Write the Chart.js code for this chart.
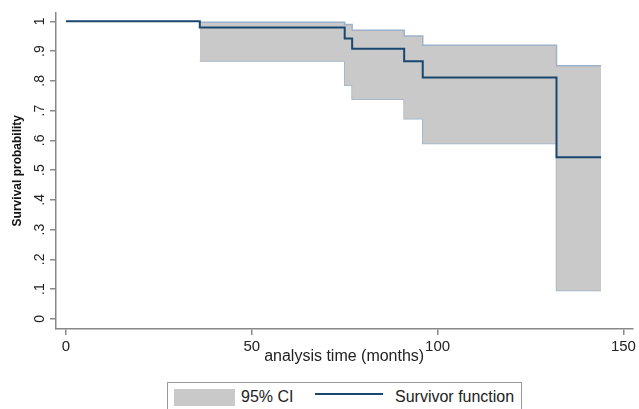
<!DOCTYPE html>
<html>
<head>
<meta charset="utf-8">
<script src="https://cdn.jsdelivr.net/npm/chart.js@4/dist/chart.umd.min.js"></script>
<style>
  html, body { margin: 0; padding: 0; background: #fff; }
  #wrap { position: relative; width: 639px; height: 409px; overflow: hidden; }
  #legend { position: absolute; left: 167px; top: 382px; width: 355px; height: 40px;
            border: 1px solid #999; box-sizing: border-box; background: #fff;
            font-family: "Liberation Sans", Arial, sans-serif; font-size: 16px; color: #222; }
  #legend .sw { position: absolute; left: 6px; top: 6px; width: 61px; height: 17px; background: #c9c9c9; }
  #legend .ln { position: absolute; left: 147px; top: 10px; width: 68px; height: 2px; background: #1a476f; }
  #legend .t1 { position: absolute; left: 73px; top: 5px; }
  #legend .t2 { position: absolute; left: 227px; top: 5px; }
</style>
</head>
<body>
<div id="wrap">
  <canvas id="kmChart" width="639" height="409"></canvas>
  <div id="legend">
    <div class="sw"></div><span class="t1">95% CI</span>
    <div class="ln"></div><span class="t2">Survivor function</span>
  </div>
</div>
<script>
// Kaplan-Meier estimate
const times = [0, 36, 75, 77, 91, 96, 132, 144];
const survival = [1, 0.979, 0.942, 0.908, 0.866, 0.811, 0.543, 0.543];

// 95% confidence band (starts at first event)
const ciTimes = [36, 75, 77, 91, 96, 132, 144];
const ciUpper = [0.997, 0.989, 0.970, 0.951, 0.920, 0.851, 0.851];
const ciLower = [0.867, 0.785, 0.738, 0.673, 0.589, 0.095, 0.095];

const xTicks = [0, 50, 100, 150];
const yTicks = [0, 0.1, 0.2, 0.3, 0.4, 0.5, 0.6, 0.7, 0.8, 0.9, 1];
const yTickLabels = ['0', '.1', '.2', '.3', '.4', '.5', '.6', '.7', '.8', '.9', '1'];

const toPoints = (xs, ys) => xs.map((x, i) => ({ x: x, y: ys[i] }));
const axisGray = '#888';
const font = "'Liberation Sans', Arial, sans-serif";

const ctx = document.getElementById('kmChart').getContext('2d');
const kmChart = new Chart(ctx, {
    type: 'line',
    data: {
        datasets: [{
            label: 'Survivor function',
            data: toPoints(times, survival),
            stepped: true,
            borderColor: '#1a476f',
            borderWidth: 2,
            pointRadius: 0,
            fill: false
        }, {
            label: '95% CI upper',
            data: toPoints(ciTimes, ciUpper),
            stepped: true,
            borderColor: '#9db2c9',
            borderWidth: 1.5,
            backgroundColor: '#c9c9c9',
            pointRadius: 0,
            fill: '+1'
        }, {
            label: '95% CI lower',
            data: toPoints(ciTimes, ciLower),
            stepped: true,
            borderColor: '#9db2c9',
            borderWidth: 1.5,
            pointRadius: 0,
            fill: false
        }]
    },
    options: {
        responsive: false,
        animation: false,
        devicePixelRatio: 1,
        layout: { padding: { top: 12, right: 6, left: 0, bottom: 0 } },
        plugins: { legend: { display: false }, tooltip: { enabled: false } },
        scales: {
            x: {
                type: 'linear',
                min: -2.7,
                max: 152.4,
                afterBuildTicks: scale => { scale.ticks = xTicks.map(v => ({ value: v })); },
                afterFit: scale => { scale.height = 80; },
                grid: { drawOnChartArea: false, drawTicks: true, tickLength: 6, color: axisGray, lineWidth: 1.5 },
                border: { color: axisGray, width: 1.5 },
                ticks: { color: '#222', padding: 3, maxRotation: 0, font: { family: font, size: 15 } },
                title: {
                    display: true,
                    text: 'analysis time (months)',
                    color: '#222',
                    font: { family: font, size: 16 },
                    padding: { top: 0, bottom: 43 }
                }
            },
            y: {
                type: 'linear',
                min: -0.034,
                max: 1.03,
                afterBuildTicks: scale => { scale.ticks = yTicks.map(v => ({ value: v })); },
                afterFit: scale => { scale.width = 56; },
                grid: { drawOnChartArea: false, drawTicks: true, tickLength: 6, color: axisGray, lineWidth: 1.5 },
                border: { color: axisGray, width: 1.5 },
                ticks: {
                    color: '#222',
                    padding: 4,
                    minRotation: 90,
                    maxRotation: 90,
                    crossAlign: 'center',
                    font: { family: font, size: 14 },
                    callback: (v, i) => yTickLabels[i]
                },
                title: {
                    display: true,
                    text: 'Survival probability',
                    color: '#111',
                    font: { family: font, size: 12, weight: 'bold' },
                    padding: { top: 10, bottom: 0 }
                }
            }
        }
    }
});
</script>
</body>
</html>
